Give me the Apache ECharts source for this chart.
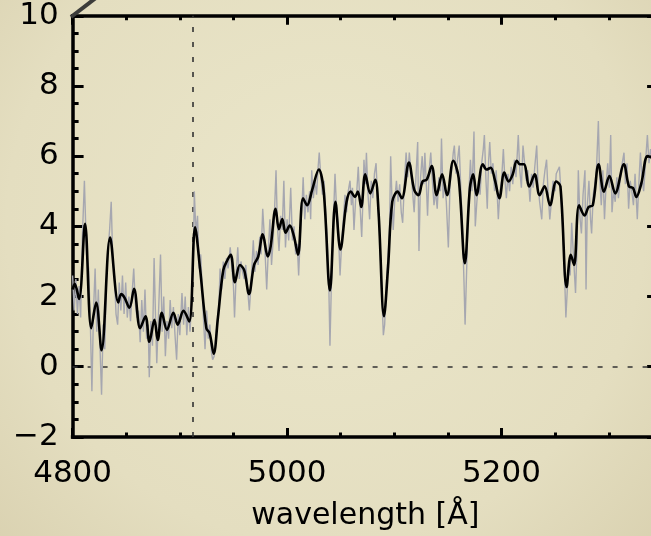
<!DOCTYPE html>
<html>
<head>
<meta charset="utf-8">
<script src="https://cdn.jsdelivr.net/npm/echarts@6/dist/echarts.min.js"></script>
<style>
  html, body { margin: 0; padding: 0; background: #e6e0c4; }
  #chart { width: 651px; height: 536px; }
</style>
</head>
<body>
<div id="chart"></div>
<script>
// Axis ranges and tick labels
const X_MIN = 4800, X_MAX = 5346;
const Y_MIN = -2, Y_MAX = 10;
const xTickLabels = [4800, 5000, 5200];
const yTickLabels = [-2, 0, 2, 4, 6, 8, 10];
const markerWavelength = 4912;

// Observed flux, [wavelength (Å), flux]
const rawSpectrum = [
  [4800,2.6],[4801.5,1.6],[4803,2.5],[4804.5,1.5],[4806,2.3],[4807.5,1.4],[4809,3.6],[4811,5.3],[4813,3.2],[4815,2.8],
  [4816.5,1.3],[4818,-0.7],[4819.5,1.6],[4821,2.8],[4822.5,1.0],[4824,2.2],[4825.5,0.6],[4827,-0.8],[4828.5,1.2],[4830,0.5],
  [4831.5,2.5],[4833,3.3],[4834.5,3.9],[4836,4.7],[4837.5,3.0],[4839,2.6],[4840.5,1.5],[4842,1.2],[4843.5,2.4],[4845,1.6],
  [4846.5,2.6],[4848,1.5],[4849.5,2.4],[4851,1.4],[4852.5,2.0],[4854,1.3],[4855.5,2.1],[4857,2.8],[4858.5,1.8],[4860,1.4],
  [4861.5,1.6],[4863,0.7],[4864.5,1.9],[4866,1.0],[4867.5,2.2],[4869,0.8],[4870.5,1.2],[4871.5,-0.3],[4873,1.3],[4874.5,0.6],
  [4876,3.1],[4877.5,1.2],[4878.5,0.1],[4880,1.4],[4882,3.2],[4883.5,1.0],[4885,2.0],[4886.5,0.3],[4888,1.3],[4889.5,0.8],
  [4891,1.9],[4892.5,1.1],[4894,1.7],[4895.5,0.9],[4897,0.2],[4898.5,1.5],[4900,0.9],[4902,2.1],[4903.5,1.2],[4905,2.0],
  [4906.5,0.9],[4908,1.7],[4909.5,1.0],[4911,1.9],[4912.5,2.9],[4913.5,5.0],[4915,3.8],[4916.5,4.3],[4918,2.8],[4919.5,3.2],
  [4920.5,3.2],[4922,1.4],[4923.5,0.5],[4925,1.6],[4926.5,0.8],[4928,1.2],[4929.5,0.4],[4930.6,0.2],[4932,0.3],[4933.5,0.8],
  [4935,1.3],[4936.5,1.8],[4937.5,2.8],[4939,2.2],[4940.5,3.0],[4942,2.5],[4943.5,3.1],[4945,2.8],[4947,3.4],[4948.5,2.8],
  [4950,2.3],[4951,1.4],[4952.5,2.6],[4954,3.4],[4955.5,2.5],[4957,3.0],[4958.5,2.7],[4960,2.5],[4961.5,2.9],[4963,2.3],
  [4964.8,1.6],[4966.5,2.4],[4968.5,3.6],[4970,2.7],[4971.5,3.3],[4973,2.9],[4974.5,3.7],[4975.8,3.2],[4977.3,4.5],[4979,3.6],
  [4981,2.2],[4982.5,3.3],[4984,4.2],[4985.5,2.9],[4987,3.6],[4988.5,4.6],[4989.7,5.6],[4991,4.0],[4992.5,3.3],[4994,4.3],
  [4995.5,3.9],[4997,5.3],[4998.5,3.4],[5000,4.2],[5001.5,3.6],[5003.4,5.1],[5005,3.6],[5006.5,4.0],[5008,3.2],[5009.5,3.5],
  [5010.8,2.6],[5012.5,3.9],[5014,4.6],[5015,5.4],[5016.5,4.2],[5018,4.9],[5019.5,4.4],[5021,5.0],[5022,4.2],[5023,5.6],
  [5024.5,4.8],[5026,5.3],[5027.5,4.9],[5029,5.7],[5030,6.1],[5031.5,5.4],[5033,4.9],[5034.5,5.3],[5036,4.4],[5037.5,3.6],
  [5039,2.2],[5040,0.6],[5041.5,2.6],[5043,4.0],[5044.7,5.5],[5046,4.6],[5047.5,4.1],[5049.4,2.6],[5051,3.6],[5052.5,4.2],
  [5054,4.9],[5055.5,4.4],[5057,5.0],[5058.7,5.3],[5060,4.6],[5061,5.1],[5062.4,3.9],[5064,4.8],[5065,5.0],[5066.4,5.7],
  [5068,4.6],[5069.6,3.7],[5071,5.0],[5071.7,5.9],[5073,5.2],[5074,6.1],[5075.5,4.9],[5077,4.2],[5078.5,5.3],[5080,4.8],
  [5081.5,5.5],[5083,5.8],[5084.5,4.7],[5086,4.0],[5087.5,2.8],[5088.8,1.7],[5089.8,0.9],[5091,1.2],[5092.5,2.3],[5094,3.1],
  [5095.5,3.9],[5096.6,6.0],[5098,4.6],[5099,3.9],[5100.5,4.8],[5102,5.3],[5103.5,4.7],[5105,5.2],[5106.5,4.4],[5107.8,4.1],
  [5109.5,5.3],[5111,6.1],[5112.5,5.4],[5114,6.1],[5115.5,5.6],[5117,5.0],[5118.5,4.4],[5120,5.3],[5121.8,6.4],[5123,3.3],
  [5124.5,5.4],[5126,6.0],[5127.5,5.2],[5128.5,6.1],[5130,5.1],[5131,4.3],[5132.5,5.6],[5134,6.1],[5135.5,5.3],[5137,4.6],
  [5138.5,5.0],[5140,4.5],[5141.5,5.4],[5143,5.0],[5144,6.5],[5145.5,4.8],[5147,5.2],[5148.5,4.7],[5150.4,3.4],[5152,5.2],
  [5153.5,5.6],[5155,6.1],[5156,6.3],[5157.5,5.5],[5159,5.9],[5160.5,6.3],[5162,5.1],[5163.5,4.0],[5165,2.4],[5166,1.2],
  [5167.5,2.8],[5169,4.6],[5171,5.9],[5172.5,5.0],[5174.3,6.7],[5175.5,4.0],[5177,4.7],[5178.5,5.3],[5180,4.9],[5181.5,5.8],
  [5183,6.2],[5184,6.6],[5185.5,5.3],[5186.7,4.5],[5188,5.9],[5189,6.4],[5190.5,5.5],[5192,5.8],[5193.5,5.0],[5195,5.6],
  [5197,4.2],[5198.5,5.0],[5200,5.3],[5201.7,6.2],[5203,5.4],[5204.5,4.8],[5206,5.5],[5207.5,5.0],[5209,5.7],[5210.5,5.2],
  [5212,5.9],[5213.5,5.4],[5215.6,6.6],[5217,5.6],[5218.5,5.1],[5220,6.3],[5221.5,5.8],[5223,5.3],[5224.5,5.6],[5226.5,4.7],
  [5228,5.5],[5229.5,5.1],[5231,5.7],[5232.8,6.3],[5234,5.2],[5235.5,4.7],[5237.5,4.2],[5239,5.2],[5240.5,5.6],[5242,5.9],
  [5243.5,4.9],[5245,4.2],[5246.5,4.7],[5248,5.3],[5250,5.0],[5251,5.5],[5252.4,5.5],[5254,5.7],[5255.5,4.9],[5257,4.0],
  [5258.5,2.9],[5260,1.4],[5261.5,2.3],[5263,3.0],[5264,2.6],[5265.4,4.1],[5267,3.2],[5269,2.1],[5270.5,3.5],[5271.6,5.6],
  [5273,4.3],[5274.5,3.8],[5276,4.9],[5277.8,5.6],[5278.8,2.2],[5280,4.6],[5281.5,5.3],[5283,4.2],[5284,3.8],[5285.5,4.9],
  [5287,5.2],[5288.5,5.6],[5290.3,7.0],[5291.5,5.4],[5293,4.6],[5294.5,5.6],[5296,4.2],[5297.5,5.2],[5299,5.8],[5300.5,5.1],
  [5301.8,6.6],[5303,4.4],[5304.5,5.0],[5306,4.7],[5307.5,5.4],[5309,4.8],[5310.5,5.3],[5312,5.7],[5314.2,6.1],[5315.5,5.2],
  [5317,5.8],[5318.5,4.5],[5320,5.3],[5321.5,5.0],[5323,4.6],[5324.5,5.5],[5326.6,4.2],[5328,5.2],[5329.5,6.1],[5331,5.4],
  [5332.5,5.0],[5334,5.7],[5336,6.6],[5337.5,5.8],[5339,6.2],[5341,5.9],[5343,6.4],[5346,5.8]
];

// Smoothed flux, [wavelength (Å), flux]
const smoothSpectrum = [
  [4800,2.2],[4802,2.36],[4806,1.93],[4811.6,4.07],[4817.4,1.1],[4822,1.83],[4827,0.47],[4835,3.68],[4842.6,1.83],
  [4845.3,2.07],[4848.4,1.97],[4853,1.68],[4857.3,2.22],[4863,1.1],[4868,1.44],[4871.6,0.71],[4876.3,1.34],[4879.4,0.76],
  [4883.2,1.54],[4888,1.05],[4894,1.54],[4898,1.2],[4903.4,1.59],[4908.8,1.29],[4914.2,3.97],[4919,2.75],[4924.7,1.1],
  [4927.8,0.95],[4931.6,0.37],[4935.5,1.39],[4940.5,2.75],[4944.4,3.04],[4947.5,3.19],[4951.4,2.41],[4956,2.9],[4960,2.75],
  [4964.5,2.07],[4969.2,2.9],[4973.1,3.14],[4977.3,3.77],[4982,3.14],[4984.7,3.43],[4989.3,4.5],[4992.4,3.92],[4995.5,4.21],
  [4998.6,3.82],[5002.5,4.02],[5006.3,3.73],[5010.2,3.19],[5014.9,4.8],[5018.7,4.6],[5023.4,5.04],[5029.6,5.62],[5034.2,4.99],
  [5040,2.17],[5045.1,4.7],[5049.7,3.34],[5055.5,4.7],[5059.4,4.99],[5063.3,4.84],[5066,4.99],[5069.1,4.55],[5072.9,5.48],
  [5077.6,4.94],[5082.2,5.33],[5085.3,4.41],[5090.4,1.44],[5094.2,2.85],[5098.1,4.7],[5103.1,4.99],[5107,4.8],[5113.6,5.82],
  [5118.6,5.04],[5122.5,4.89],[5126.4,5.28],[5130.2,5.33],[5134.9,5.72],[5139.5,4.89],[5144.6,5.48],[5149.2,4.89],[5155,5.87],
  [5160,5.38],[5165.8,2.95],[5170.5,5.09],[5173.6,5.48],[5176.7,4.89],[5182.5,5.77],[5186,5.62],[5189.9,5.67],[5193.7,5.33],
  [5198,4.8],[5202.6,5.53],[5206.5,5.28],[5210.4,5.48],[5214.2,5.87],[5217,5.77],[5220.8,5.77],[5225.9,5.14],[5230.9,5.48],
  [5235.5,4.89],[5240.2,5.14],[5245.2,4.6],[5251,5.28],[5254.9,5.14],[5260.7,2.27],[5264.6,3.19],[5267.7,2.9],[5272.3,4.6],
  [5277.4,4.31],[5281.2,4.55],[5285.1,4.6],[5290.5,5.77],[5295.5,4.99],[5300.6,5.43],[5306,4.94],[5314.1,5.77],[5318.8,5.14],
  [5322.6,5.09],[5325.7,4.84],[5330.4,5.23],[5336.2,6.0],[5341,5.95],[5346,5.9]
];

const FONT = '"DejaVu Sans", "Liberation Sans", sans-serif';
const INK = '#000';

const xBase = { type: 'value', min: X_MIN, max: X_MAX, splitLine: { show: false } };
const majorX = (pos, withLabels) => Object.assign({}, xBase, {
  position: pos,
  interval: 200,
  axisLine: { show: true, onZero: false, lineStyle: { color: INK, width: 3.5, cap: 'square' } },
  axisTick: { show: true, inside: true, length: 9, lineStyle: { color: INK, width: 3 } },
  axisLabel: withLabels ? {
    show: true, fontSize: 31, fontFamily: FONT, color: INK, margin: 22,
    showMaxLabel: false,
    formatter: v => (xTickLabels.indexOf(v) >= 0 ? String(v) : '')
  } : { show: false },
  name: withLabels ? 'wavelength [Å]' : '',
  nameLocation: 'middle',
  nameGap: 64,
  nameTextStyle: { fontSize: 30, fontFamily: FONT, color: INK }
});
const minorX = pos => Object.assign({}, xBase, {
  position: pos,
  interval: 50,
  axisLine: { show: false, onZero: false },
  axisTick: { show: true, inside: true, length: 4.5, lineStyle: { color: INK, width: 3 } },
  axisLabel: { show: false }
});
const yAxisOf = (pos, withLabels) => ({
  type: 'value', min: Y_MIN, max: Y_MAX, interval: 2, position: pos,
  splitLine: { show: false },
  axisLine: { show: true, onZero: false, lineStyle: { color: INK, width: 3.5, cap: 'square' } },
  axisTick: { show: true, inside: true, length: 11, lineStyle: { color: INK, width: 3 } },
  minorTick: { show: true, splitNumber: 4, length: 6, lineStyle: { color: INK, width: 3 } },
  minorSplitLine: { show: false },
  axisLabel: withLabels ? {
    show: true, fontSize: 31, fontFamily: FONT, color: INK, margin: 14,
    formatter: v => (yTickLabels.indexOf(v) >= 0 ? (v < 0 ? '\u2212' + Math.abs(v) : String(v)) : '')
  } : { show: false }
});

const chart = echarts.init(document.getElementById('chart'), null, { renderer: 'canvas' });
chart.setOption({
  animation: false,
  backgroundColor: new echarts.graphic.RadialGradient(0.5, 0.42, 0.85, [
    { offset: 0, color: '#ebe7cb' },
    { offset: 0.7, color: '#e4dec0' },
    { offset: 1, color: '#dad2b1' }
  ]),
  grid: { left: 72.6, top: 15.8, width: 585.5, height: 421.1, containLabel: false, outerBoundsMode: 'none' },
  xAxis: [majorX('bottom', true), minorX('bottom'), majorX('top', false), minorX('top')],
  yAxis: [yAxisOf('left', true), yAxisOf('right', false)],
  graphic: [{
    type: 'line', z: 100,
    shape: { x1: 71, y1: 17, x2: 101, y2: -6 },
    style: { stroke: '#3c3c3a', lineWidth: 4 }
  }],
  series: [
    {
      type: 'line', data: [], z: 1, silent: true,
      markLine: {
        silent: true, symbol: ['none', 'none'], z: 1,
        label: { show: false },
        lineStyle: { color: '#333', width: 1.6, type: [5, 10] },
        data: [{ xAxis: markerWavelength }, { yAxis: 0 }]
      }
    },
    {
      type: 'line', data: rawSpectrum, z: 3, showSymbol: false, silent: true,
      lineStyle: { color: '#a6a7b0', width: 1.4 }
    },
    {
      type: 'line', data: smoothSpectrum, z: 4, showSymbol: false, silent: true, smooth: 0.35,
      lineStyle: { color: '#000', width: 2.6 }
    }
  ]
});
</script>
</body>
</html>
